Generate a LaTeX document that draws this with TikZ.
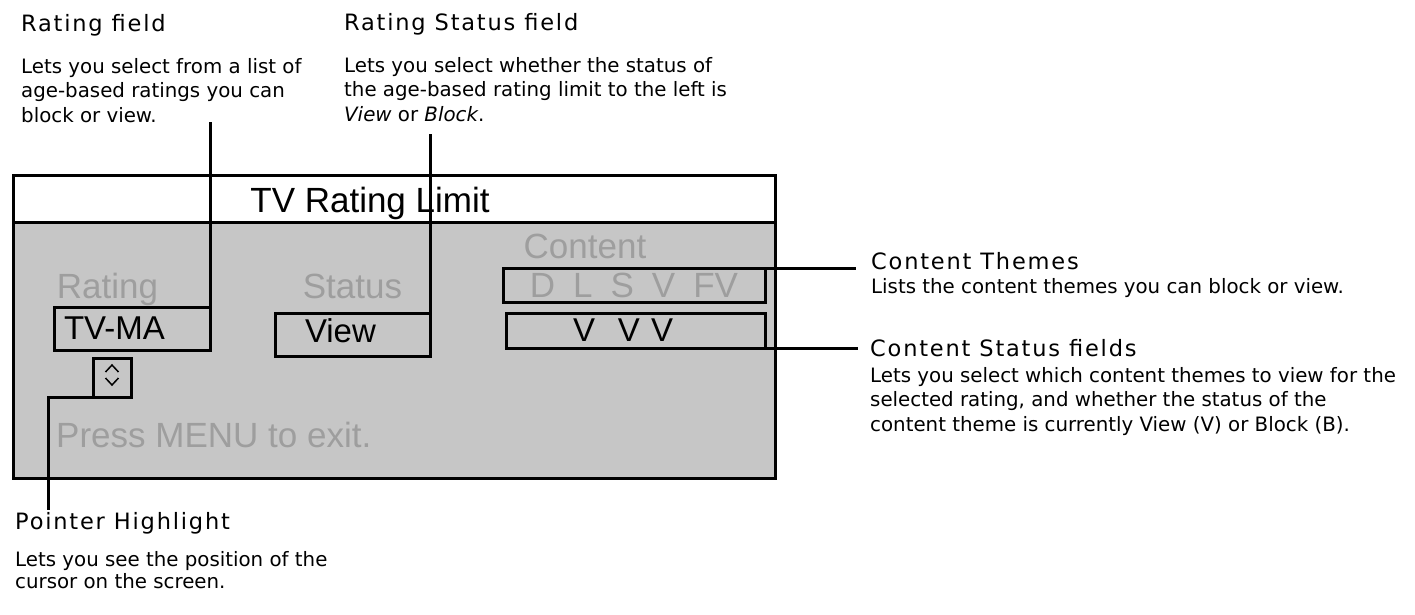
\documentclass[tikz,border=0pt]{standalone}
\usepackage{fontspec}
\setmainfont{DejaVu Sans}
\newfontfamily\screenfont{Liberation Sans}
\newfontfamily\headfont[LetterSpace=8]{DejaVu Sans}
\definecolor{screengray}{RGB}{198,198,198}
\definecolor{dimtext}{RGB}{158,158,158}

\begin{document}
\begin{tikzpicture}[x=1pt, y=-1pt,
    screenbox/.style={draw, line width=3pt, inner sep=0pt, outer sep=0pt},
    field/.style={draw, line width=3pt, inner ysep=0pt, outer sep=0pt, align=left},
    wire/.style={line width=3pt},
    heading/.style={anchor=base west, inner sep=0pt, align=left, font=\headfont\fontsize{22.5}{26}\selectfont},
    desc/.style={anchor=base west, inner sep=0pt, align=left, font=\fontsize{19.8}{24.5}\selectfont},
    screentext/.style={inner sep=0pt, font=\screenfont\fontsize{33}{38}\selectfont},
    dimlabel/.style={inner sep=0pt, text=dimtext, font=\screenfont\fontsize{35}{40}\selectfont}]
    \useasboundingbox (0,0) rectangle (1415,614);

    %--------------------%
    % Top labels
    %--------------------%
    % (multi-line texts sit on the baseline of their last line)
    \node[heading] (ratinghead) at (21,31) {Rating field};
    \node[desc] (ratingdesc) at (21,122) {Lets you select from a list of\\age-based ratings you can\\block or view.};
    \node[heading] (statushead) at (344,30) {Rating Status field};
    \node[desc] (statusdesc) at (344,121) {Lets you select whether the status of\\the age-based rating limit to the left is\\\textit{View} or \textit{Block}.};

    %--------------------%
    % Screen
    %--------------------%
    \node[screenbox, fill=screengray, minimum width=762pt, minimum height=256pt] (panel) at (394,350) {};
    \node[screenbox, fill=white, minimum width=762pt, minimum height=47pt] (titlebar) at (394,198.5) {};
    \node[screentext, anchor=base, font=\screenfont\fontsize{35}{40}\selectfont] (titletext) at (370,212) {TV Rating Limit};

    \node[dimlabel, anchor=base] (ratinglbl) at (107.5,298) {Rating};
    \node[dimlabel, anchor=base] (statuslbl) at (352.5,298) {Status};
    \node[dimlabel, anchor=base] (contentlbl) at (585,258) {Content};
    \node[dimlabel, anchor=base west] (exitlbl) at (56,447) {Press MENU to exit.};

    % Fields
    \node[field, screentext, inner xsep=10pt, text width=136pt, minimum height=43pt] (tvma) at (132,328.5) {TV-MA};
    \node[field, screentext, inner xsep=30pt, text width=95pt, text depth=8pt, minimum height=43pt] (view) at (352.5,334.5) {View};
    \node[field, dimlabel, inner ysep=0pt, minimum width=262pt, minimum height=34pt] (themes) at (634,285)
        {D\hspace{18pt}L\hspace{18pt}S\hspace{18pt}V\hspace{18pt}FV};
    \node[field, screentext, inner xsep=67pt, text width=125pt, minimum height=35pt] (cstatus) at (635.5,330.5)
        {V\hspace{23pt}V V};
    \node[screenbox, minimum width=38pt, minimum height=39pt] (updown) at (112,377.5) {};
    \draw[line width=1.5pt] ([shift={(-6.5,-5.5)}]updown.center) -- ([shift={(0,-12.5)}]updown.center) -- ([shift={(6.5,-5.5)}]updown.center);
    \draw[line width=1.5pt] ([shift={(-6.5,0.5)}]updown.center) -- ([shift={(0,7.5)}]updown.center) -- ([shift={(6.5,0.5)}]updown.center);

    %--------------------%
    % Connections
    %--------------------%
    \coordinate (ratingtop) at (210,122);
    \coordinate (statustop) at (430,134);
    \coordinate (themesend) at (856,268);
    \coordinate (cstatusend) at (858,348);
    \coordinate (pointerend) at (48,510);
    \draw[wire] (ratingtop) -- (tvma.north east);
    \draw[wire] (statustop) -- (view.north east);
    \draw[wire] (themes.north east) -- (themesend);
    \draw[wire] (cstatus.south east) -- (cstatusend);
    \draw[wire] (updown.south west) -| (pointerend);

    %--------------------%
    % Side and bottom labels
    %--------------------%
    \node[heading] (themeshead) at (871,269) {Content Themes};
    \node[desc] (themesdesc) at (871,293) {Lists the content themes you can block or view.};
    \node[heading] (cstatushead) at (870,356) {Content Status fields};
    \node[desc] (cstatusdesc) at (870,431) {Lets you select which content themes to view for the\\selected rating, and whether the status of the\\content theme is currently View (V) or Block (B).};
    \node[heading] (pointerhead) at (15,529) {Pointer Highlight};
    \node[desc, font=\fontsize{19.8}{22}\selectfont] (pointerdesc) at (15,588) {Lets you see the position of the\\cursor on the screen.};

\end{tikzpicture}
\end{document}
